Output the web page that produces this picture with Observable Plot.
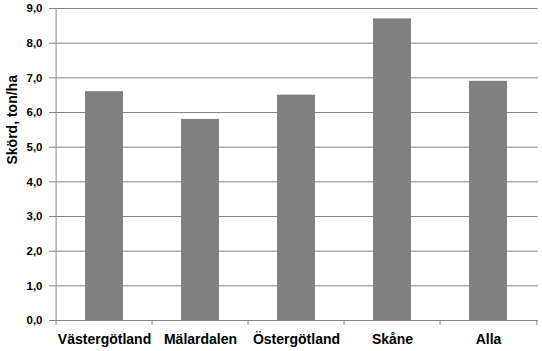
<!DOCTYPE html>
<html>
<head>
<meta charset="utf-8">
<script src="https://cdn.jsdelivr.net/npm/d3@7"></script>
<script src="https://cdn.jsdelivr.net/npm/@observablehq/plot@0.6"></script>
<style>
  html, body { margin: 0; padding: 0; background: #fff; }
  #chart svg { display: block; }
</style>
</head>
<body>
<div id="chart"></div>
<script>
const regions = ["Västergötland", "Mälardalen", "Östergötland", "Skåne", "Alla"];
const yields = [6.6, 5.8, 6.5, 8.7, 6.9];
const yTicks = [0, 1, 2, 3, 4, 5, 6, 7, 8, 9];
const yLabel = "Skörd, ton/ha";

const data = regions.map((r, i) => ({region: r, value: yields[i]}));

const width = 542, height = 351;
const marginLeft = 54, marginRight = 4, marginTop = 8, marginBottom = 31;
const bw = (width - marginLeft - marginRight) / regions.length;
const fmt = d => d3.format(".1f")(d).replace(".", ",");
const font = "'Liberation Sans', Arial, sans-serif";

const chart = Plot.plot({
  width, height, marginLeft, marginRight, marginTop, marginBottom,
  style: {fontFamily: font, fontWeight: "bold", color: "#000", background: "#fff"},
  x: {domain: regions, padding: 0, label: null},
  y: {domain: [0, 9], label: null},
  marks: [
    Plot.ruleY(yTicks, {stroke: "#868686", strokeWidth: 1}),
    Plot.barY(data, {x: "region", y: "value", fill: "#808080", insetLeft: bw * 0.3, insetRight: bw * 0.3}),
    Plot.ruleX(regions, {x: d => d, dx: -bw / 2, y1: 0, y2: 0, insetBottom: -5, stroke: "#868686"}),
    Plot.ruleX(regions.slice(-1), {x: d => d, dx: bw / 2, y1: 0, y2: 0, insetBottom: -5, stroke: "#868686"}),
    Plot.ruleX(regions.slice(0, 1), {x: d => d, dx: -bw / 2, y1: 0, y2: 9, stroke: "#868686"}),
    Plot.axisY({ticks: yTicks, tickFormat: fmt, tickSize: 5, tickPadding: 7, stroke: "#868686", fontSize: 11.5, fontWeight: "bold", fill: "#000", label: null}),
    Plot.axisX({tickSize: 0, tickPadding: 14, fontSize: 14, fontWeight: "bold", fill: "#000", label: null}),
    Plot.text([yLabel], {frameAnchor: "left", dx: -42, rotate: -90, fontSize: 14, fontWeight: "bold", fill: "#000", letterSpacing: "1.2px"})
  ]
});
document.getElementById("chart").appendChild(chart);
</script>
</body>
</html>
